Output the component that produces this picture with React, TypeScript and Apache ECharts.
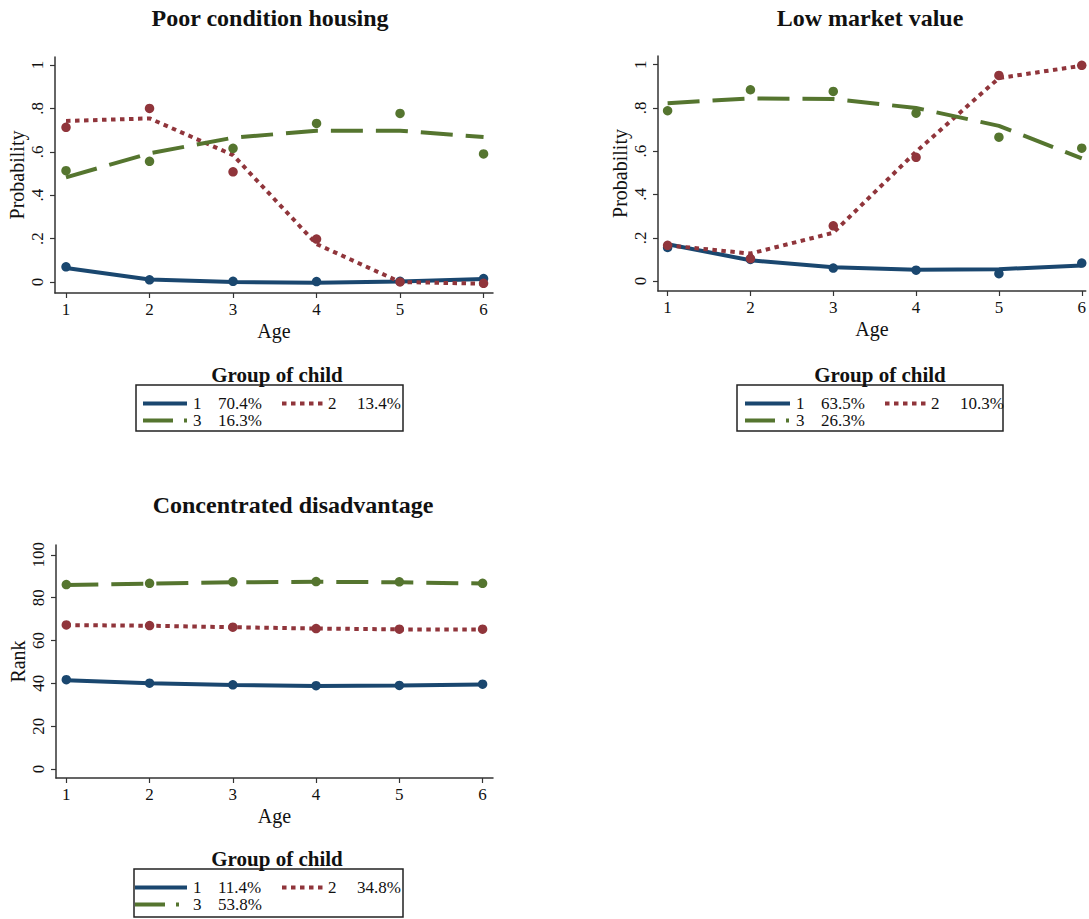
import React, { useEffect, useRef } from "react";
import * as echarts from "echarts";

// ---------- data ----------
const ages = [1, 2, 3, 4, 5, 6];
const groupNames = ["1", "2", "3"];
const colors = ["#1a476f", "#90353b", "#55752f"];

const chartTitles = ["Poor condition housing", "Low market value", "Concentrated disadvantage"];
const yAxisNames = ["Probability", "Probability", "Rank"];
const probTicks = [0, 0.2, 0.4, 0.6, 0.8, 1];
const rankTicks = [0, 20, 40, 60, 80, 100];

// Poor condition housing
const poorObs1 = [0.07, 0.01, 0.003, 0.002, 0.003, 0.016];
const poorFit1 = [0.065, 0.012, 0.0, -0.003, 0.002, 0.014];
const poorObs2 = [0.713, 0.8, 0.508, 0.198, 0.0, -0.006];
const poorFit2 = [0.742, 0.754, 0.585, 0.175, 0.0, -0.008];
const poorObs3 = [0.513, 0.556, 0.616, 0.731, 0.777, 0.59];
const poorFit3 = [0.482, 0.593, 0.665, 0.697, 0.697, 0.668];
const poorShares = ["70.4%", "13.4%", "16.3%"];

// Low market value
const lowObs1 = [0.155, 0.1, 0.06, 0.05, 0.034, 0.083];
const lowFit1 = [0.17, 0.096, 0.064, 0.052, 0.055, 0.072];
const lowObs2 = [0.165, 0.104, 0.255, 0.572, 0.95, 0.997];
const lowFit2 = [0.165, 0.127, 0.223, 0.598, 0.938, 0.995];
const lowObs3 = [0.787, 0.884, 0.876, 0.776, 0.665, 0.614];
const lowFit3 = [0.822, 0.844, 0.841, 0.8, 0.717, 0.567];
const lowShares = ["63.5%", "10.3%", "26.3%"];

// Concentrated disadvantage
const concObs1 = [41.7, 40.1, 39.3, 38.9, 39.0, 39.6];
const concFit1 = [41.4, 40.1, 39.2, 38.8, 39.0, 39.5];
const concObs2 = [67.3, 67.0, 66.2, 65.6, 65.3, 65.3];
const concFit2 = [67.2, 66.9, 66.2, 65.6, 65.2, 65.2];
const concObs3 = [86.1, 86.7, 87.4, 87.5, 87.4, 86.7];
const concFit3 = [85.9, 86.6, 87.2, 87.4, 87.2, 86.6];
const concShares = ["11.4%", "34.8%", "53.8%"];

const legendTitle = "Group of child";

// ---------- styling / layout ----------
const FONT = '"Liberation Serif", "Times New Roman", Times, serif';
const AXIS_COLOR = "#333";
const dashes: any[] = ["solid", [4.5, 4.5], [32, 13]];

const panels = [
  {
    grid: { left: 55, top: 57, width: 438, height: 236 },
    x: [0.868, 6.113],
    y: [-0.0507, 1.0369],
    ticks: probTicks,
    obs: [poorObs1, poorObs2, poorObs3],
    fit: [poorFit1, poorFit2, poorFit3],
    shares: poorShares,
    titlePos: [270, 6],
    legend: { x: 136, y: 385, w: 267, h: 46, lineStart: 143, shift: 0 },
  },
  {
    grid: { left: 658, top: 56, width: 431, height: 235 },
    x: [0.884, 6.048],
    y: [-0.046, 1.04],
    ticks: probTicks,
    obs: [lowObs1, lowObs2, lowObs3],
    fit: [lowFit1, lowFit2, lowFit3],
    shares: lowShares,
    titlePos: [870, 6],
    legend: { x: 737, y: 385, w: 266, h: 46, lineStart: 745, shift: 603 },
  },
  {
    grid: { left: 56, top: 545, width: 437, height: 233 },
    x: [0.876, 6.125],
    y: [-4.2, 104.6],
    ticks: rankTicks,
    obs: [concObs1, concObs2, concObs3],
    fit: [concFit1, concFit2, concFit3],
    shares: concShares,
    titlePos: [293, 493],
    legend: { x: 134, y: 869, w: 269, h: 48, lineStart: 135, shift: 0 },
  },
];

function fmtTick(v: number) {
  const s = String(v);
  return s.startsWith("0.") ? s.slice(1) : s;
}

function buildLegend(p: any, shares: string[]) {
  const L = p.legend;
  const r1 = L.y + 18.5;
  const r2 = L.y + 35.5;
  const sx = (v: number) => v + L.shift;
  const els: any[] = [];
  els.push({
    type: "rect",
    shape: { x: L.x, y: L.y, width: L.w, height: L.h },
    style: { fill: "#fff", stroke: "#222", lineWidth: 1.5 },
  });
  els.push({
    type: "text",
    x: sx(277),
    y: L.y - 10,
    style: { text: legendTitle, font: `bold 21px ${FONT}`, fill: "#111", align: "center", verticalAlign: "middle" },
  });
  const items = [
    { lx: [L.lineStart, sx(187)], nx: sx(193), sxp: sx(218), y: r1 },
    { lx: [sx(282), sx(323)], nx: sx(328), sxp: sx(357), y: r1 },
    { lx: [L.lineStart, L.lineStart + 44], nx: sx(193), sxp: sx(218), y: r2 },
  ];
  items.forEach((it, g) => {
    els.push({
      type: "line",
      shape: { x1: it.lx[0], y1: it.y, x2: it.lx[1], y2: it.y },
      style: {
        stroke: colors[g],
        lineWidth: 4,
        lineDash: g === 0 ? null : g === 1 ? [4.5, 4.5] : [30, 11],
        lineCap: "butt",
      },
    });
    els.push({
      type: "text",
      x: it.nx,
      y: it.y,
      style: { text: groupNames[g], font: `17px ${FONT}`, fill: "#111", align: "left", verticalAlign: "middle" },
    });
    els.push({
      type: "text",
      x: it.sxp,
      y: it.y,
      style: { text: shares[g], font: `17px ${FONT}`, fill: "#111", align: "left", verticalAlign: "middle" },
    });
  });
  return els;
}

export default function App() {
  const ref = useRef<HTMLDivElement>(null);
  useEffect(() => {
    if (!ref.current) return;
    const chart = echarts.init(ref.current, null, { renderer: "svg" });

    const grid: any[] = [];
    const xAxis: any[] = [];
    const yAxis: any[] = [];
    const series: any[] = [];
    const title: any[] = [];
    let graphic: any[] = [];

    panels.forEach((p, k) => {
      grid.push({ ...p.grid, containLabel: false });
      xAxis.push({
        type: "value",
        gridIndex: k,
        min: p.x[0],
        max: p.x[1],
        name: "Age",
        nameLocation: "middle",
        nameGap: 28,
        nameTextStyle: { fontFamily: FONT, fontSize: 20, color: "#111" },
        axisLine: { show: true, onZero: false, lineStyle: { color: AXIS_COLOR, width: 1.5 } },
        axisTick: { show: true, length: 5, customValues: ages, lineStyle: { color: AXIS_COLOR, width: 1.2 } },
        axisLabel: { customValues: ages, margin: 8, fontFamily: FONT, fontSize: 17, color: "#111" },
        splitLine: { show: false },
      });
      yAxis.push({
        type: "value",
        gridIndex: k,
        min: p.y[0],
        max: p.y[1],
        name: yAxisNames[k],
        nameLocation: "middle",
        nameGap: 28,
        nameTextStyle: { fontFamily: FONT, fontSize: 20, color: "#111" },
        axisLine: { show: true, onZero: false, lineStyle: { color: AXIS_COLOR, width: 1.5 } },
        axisTick: { show: true, length: 5, customValues: p.ticks, lineStyle: { color: AXIS_COLOR, width: 1.2 } },
        axisLabel: {
          customValues: p.ticks,
          rotate: 90,
          margin: 9,
          formatter: (v: number) => fmtTick(v),
          fontFamily: FONT,
          fontSize: 17,
          color: "#111",
        },
        splitLine: { show: false },
      });
      title.push({
        text: chartTitles[k],
        left: p.titlePos[0],
        top: p.titlePos[1],
        textAlign: "center",
        padding: 0,
        textStyle: { fontFamily: FONT, fontWeight: "bold", fontSize: 24, color: "#111" },
      });
      for (let g = 0; g < 3; g++) {
        series.push({
          type: "line",
          name: `fit-${k}-${g}`,
          xAxisIndex: k,
          yAxisIndex: k,
          data: ages.map((a, i) => [a, p.fit[g][i]]),
          symbol: "none",
          showSymbol: false,
          lineStyle: { color: colors[g], width: 4, type: dashes[g], cap: "butt" },
          z: 2,
          silent: true,
        });
        series.push({
          type: "scatter",
          name: `obs-${k}-${g}`,
          xAxisIndex: k,
          yAxisIndex: k,
          data: ages.map((a, i) => [a, p.obs[g][i]]),
          symbol: "circle",
          symbolSize: 9.5,
          itemStyle: { color: colors[g], opacity: 1 },
          z: 3,
          silent: true,
        });
      }
      graphic = graphic.concat(buildLegend(p, p.shares));
    });

    chart.setOption({
      animation: false,
      backgroundColor: "#fff",
      title,
      grid,
      xAxis,
      yAxis,
      series,
      graphic,
    });
    return () => chart.dispose();
  }, []);

  return (
    <div
      ref={ref}
      style={{ position: "fixed", left: 0, top: 0, width: 1089, height: 919, background: "#fff" }}
    />
  );
}
